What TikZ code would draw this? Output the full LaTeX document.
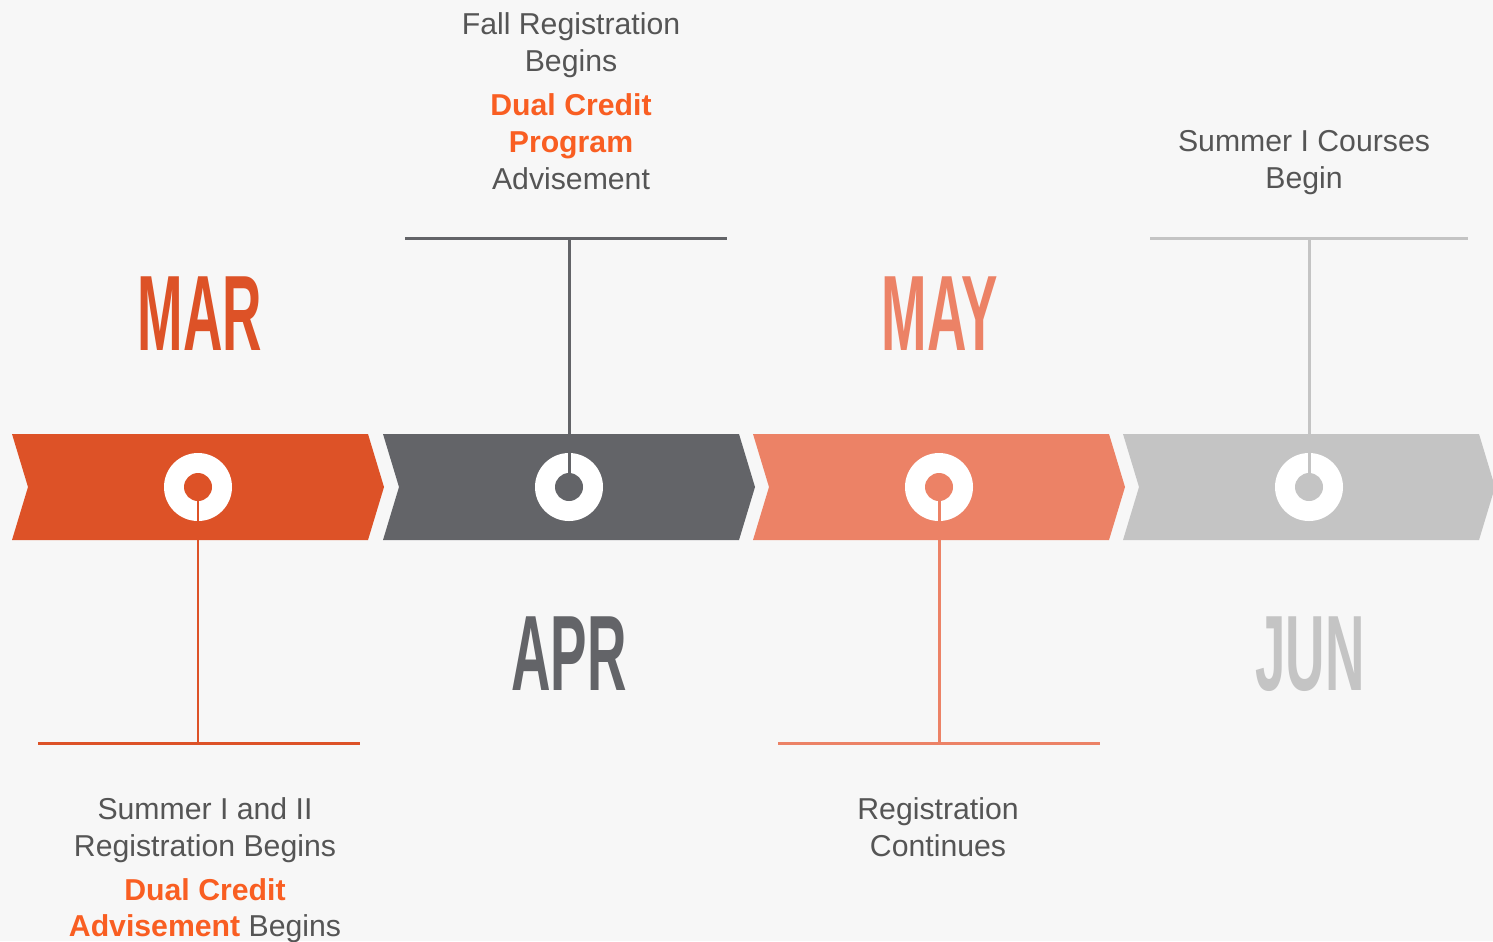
\documentclass[tikz,border=0pt]{standalone}
\usepackage{fontspec}
\setmainfont{Liberation Sans}
\newfontfamily\monthfont[FakeStretch=0.51]{Liberation Sans Bold}
\usetikzlibrary{calc}
\definecolor{marcol}{HTML}{DD5227}
\definecolor{aprcol}{HTML}{636468}
\definecolor{maycol}{HTML}{EC8266}
\definecolor{juncol}{HTML}{C4C4C4}
\definecolor{txtgray}{HTML}{555555}
\definecolor{dualcol}{HTML}{F95E22}
\definecolor{bgcol}{HTML}{F7F7F7}
\newcommand{\dual}[1]{{\bfseries\color{dualcol}#1}}

\begin{document}
\begin{tikzpicture}[x=0.02cm,y=-0.02cm,
  event/.style={align=center,text=txtgray,inner sep=0pt,anchor=north,
    font=\fontsize{17.2}{21}\selectfont},
  month/.style={inner sep=0pt,font=\monthfont\fontsize{61}{61}\selectfont},
  stem/.style={line width=1.7pt}]
\useasboundingbox (0,0) rectangle (1493,941);
\fill[bgcol] (0,0) rectangle (1493,941);
\foreach \x/\c/\n in {12/marcol/mar,383/aprcol/apr,753/maycol/may,1123/juncol/jun}{
  \fill[\c] (\x,434) -- (\x+356,434) -- (\x+372,487) -- (\x+356,540)
    -- (\x,540) -- (\x+16,487) -- cycle;
  \coordinate (\n dot) at (\x+186,487);
  \fill[white] (\n dot) circle (34);
  \fill[\c] (\n dot) circle (14);
}
\coordinate (marend) at (198,743);
\coordinate (marL) at (38,743);
\coordinate (marR) at (360,743);
\coordinate (aprend) at (569,238);
\coordinate (aprL) at (405,238);
\coordinate (aprR) at (727,238);
\coordinate (mayend) at (939,743);
\coordinate (mayL) at (778,743);
\coordinate (mayR) at (1100,743);
\coordinate (junend) at (1309,238);
\coordinate (junL) at (1150,238);
\coordinate (junR) at (1468,238);
\draw[stem,marcol] (mardot) -- (marend) (marL) -- (marR);
\draw[stem,aprcol] (aprdot) -- (aprend) (aprL) -- (aprR);
\draw[stem,maycol] (maydot) -- (mayend) (mayL) -- (mayR);
\draw[stem,juncol] (jundot) -- (junend) (junL) -- (junR);
\node[month,text=marcol] (mar) at (200,313.5) {MAR};
\node[month,text=aprcol] (apr) at (569,654) {APR};
\node[month,text=maycol] (may) at (940,313.5) {MAY};
\node[month,text=juncol] (jun) at (1310,654) {JUN};
\node[event] (fall) at (571,12) {Fall Registration\\Begins\\[4.5pt]
  \dual{Dual Credit}\\\dual{Program}\\Advisement};
\node[event] (summer) at (1304,130) {Summer I Courses\\Begin};
\node[event] (summreg) at (205,797) {Summer I and II\\Registration Begins\\[4pt]
  \dual{Dual Credit}\\\dual{Advisement} Begins};
\node[event] (regcont) at (938,797) {Registration\\Continues};
\end{tikzpicture}
\end{document}
